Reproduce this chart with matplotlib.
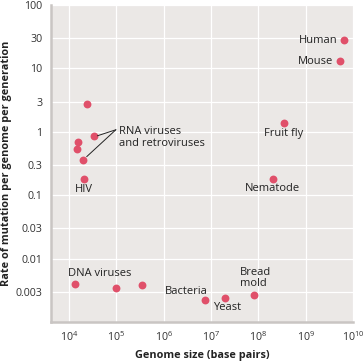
import numpy as np
import matplotlib.pyplot as plt
from matplotlib.ticker import FixedLocator, NullLocator

# genome size (bp) and mutation rate per genome per generation
names = ['Human', 'Mouse', 'Fruit fly', 'Nematode', 'Bread mold', 'Yeast', 'Bacteria',
         'DNA1', 'DNA2', 'DNA3',
         'RNA1', 'RNA2', 'RNA3', 'RNA4', 'RNA5', 'HIV']
genome = [6.5e9, 5.4e9, 3.5e8, 2.0e8, 8.1e7, 2.0e7, 7.5e6,
          1.34e4, 9.8e4, 3.5e5,
          2.4e4, 3.4e4, 1.55e4, 1.45e4, 2.0e4, 2.1e4]
rate = [27.8, 12.9, 1.39, 0.18, 0.0027, 0.0024, 0.0022,
        0.0040, 0.0034, 0.0038,
        2.78, 0.85, 0.69, 0.54, 0.36, 0.18]

yticks = [100, 30, 10, 3, 1, 0.3, 0.1, 0.03, 0.01, 0.003]
ytick_labels = ['100', '30', '10', '3', '1', '0.3', '0.1', '0.03', '0.01', '0.003']
xticks = [1e4, 1e5, 1e6, 1e7, 1e8, 1e9, 1e10]
xtick_labels = ['$10^{4}$', '$10^{5}$', '$10^{6}$', '$10^{7}$', '$10^{8}$', '$10^{9}$', '$10^{10}$']

plt.rcParams['font.family'] = ['Open Sans', 'DejaVu Sans']
plt.rcParams['mathtext.fontset'] = 'custom'
plt.rcParams['mathtext.rm'] = 'Open Sans'
plt.rcParams['mathtext.it'] = 'Open Sans'

fig = plt.figure(figsize=(3.63, 3.63), dpi=100)
ax = fig.add_axes([51/363, 41/363, 302/363, 317/363])
ax.set_facecolor('#ebe8e6')

ax.set_xscale('log')
ax.set_yscale('log')
ax.set_xlim(10**3.62, 1e10)
ax.set_ylim(0.001, 100)

ax.xaxis.set_major_locator(FixedLocator(xticks))
ax.xaxis.set_minor_locator(NullLocator())
ax.yaxis.set_major_locator(FixedLocator(yticks))
ax.yaxis.set_minor_locator(NullLocator())
ax.set_xticklabels(xtick_labels)
ax.set_yticklabels(ytick_labels)
ax.tick_params(length=0, labelsize=7.7, colors='#333333', pad=6)
ax.grid(True, color='white', linewidth=0.9)
ax.set_axisbelow(True)

for s in ['top', 'right']:
    ax.spines[s].set_visible(False)
for s in ['left', 'bottom']:
    ax.spines[s].set_color('#c9c5c3')
    ax.spines[s].set_linewidth(1.8)

ax.scatter(genome, rate, s=32, color='#e0506a', zorder=3, linewidths=0)

tc = '#222222'
kw = dict(fontsize=8, color=tc, textcoords='offset points')
ax.annotate('Human', (6.5e9, 27.8), xytext=(-5, 0), ha='right', va='center', **kw)
ax.annotate('Mouse', (5.4e9, 12.9), xytext=(-5, 0), ha='right', va='center', **kw)
ax.annotate('Fruit fly', (3.5e8, 1.39), xytext=(0, -8), ha='center', va='center', **kw)
ax.annotate('Nematode', (2.0e8, 0.18), xytext=(0, -6.5), ha='center', va='center', **kw)
ax.annotate('Bread\nmold', (8.1e7, 0.0027), xytext=(-10, 12), ha='left', va='center', linespacing=1.1, **kw)
ax.annotate('Yeast', (2.0e7, 0.0024), xytext=(-8.5, -7), ha='left', va='center', **kw)
ax.annotate('Bacteria', (7.5e6, 0.0022), xytext=(-29, 6.5), ha='left', va='center', **kw)
ax.annotate('DNA viruses', (1.34e4, 0.0040), xytext=(-5, 7.5), ha='left', va='center', **kw)
ax.annotate('HIV', (2.1e4, 0.18), xytext=(0, -7.5), ha='center', va='center', **kw)

ax.text(10**5.06, 10**-0.087, 'RNA viruses\nand retroviruses', ha='left', va='center',
        linespacing=1.1, fontsize=8, color=tc)
line_kw = dict(arrowstyle='-', color='#222222', linewidth=0.7, shrinkA=0, shrinkB=0)
ax.annotate('', (10**4.6, 10**-0.063), xytext=(10**4.99, 10**0.032), arrowprops=line_kw)
ax.annotate('', (10**4.374, 10**-0.392), xytext=(10**4.99, 10**0.032), arrowprops=line_kw)

ax.set_xlabel('Genome size (base pairs)', fontsize=7.8, fontweight='bold', color=tc, labelpad=4)
ax.set_ylabel('Rate of mutation per genome per generation', fontsize=7.8, fontweight='bold', color=tc, labelpad=3)

fig.savefig('out.png', dpi=100)
